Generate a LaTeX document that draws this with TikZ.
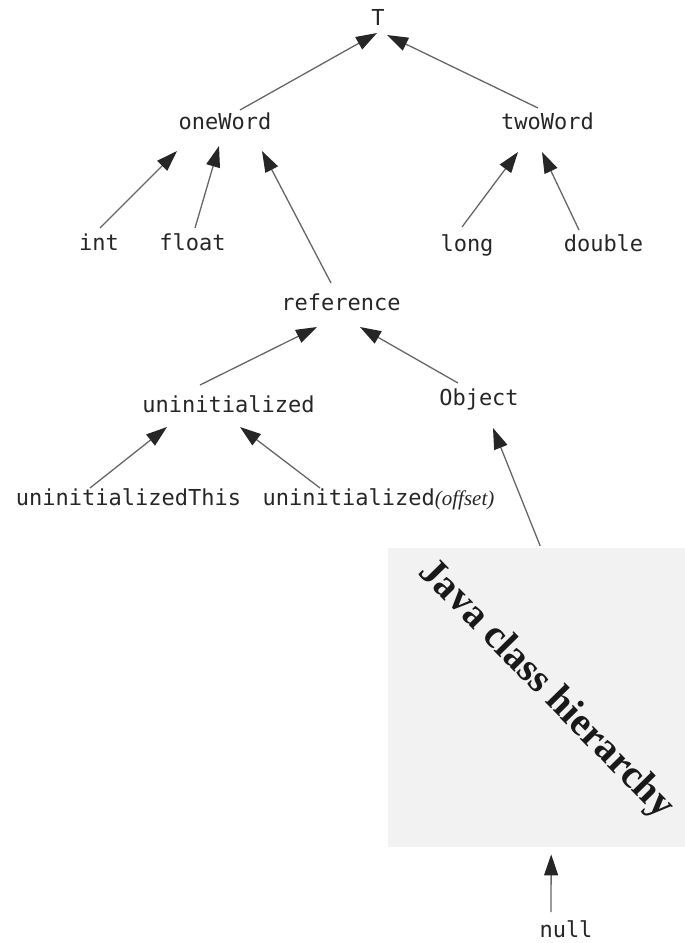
\documentclass[tikz,border=0pt]{standalone}
\usepackage{fontspec}
\setmainfont{Liberation Serif}
\setmonofont{DejaVu Sans Mono}
\usetikzlibrary{arrows.meta,calc}

\begin{document}
\begin{tikzpicture}[x=1pt,y=-1pt,
  type/.style={font=\ttfamily\fontsize{22}{22}\selectfont, text=black!85, inner sep=0pt, anchor=base},
  sub/.style={draw=black!60, line width=1.3pt,
    -{Triangle[length=21pt,width=14pt,color=black!85]}},
  hierbox/.style={fill=black!5, draw=none, inner sep=0pt, anchor=north west},
  hierlabel/.style={font=\bfseries\fontsize{40}{40}\selectfont, text=black!90, inner sep=0pt}]

\useasboundingbox (0,0) rectangle (685,943);

% gray area standing for the Java class hierarchy
\node[hierbox, minimum width=297pt, minimum height=299pt] (jch) at (388,548) {};
\node[hierlabel, rotate=-45.5] (jchlabel) at (546,690) {Java class hierarchy};

% type lattice
\node[type] (top) at (378,25) {T};
\node[type] (oneWord) at (225,129) {oneWord};
\node[type] (twoWord) at (547.5,129) {twoWord};
\node[type] (int) at (99,250) {int};
\node[type] (float) at (192.5,250) {float};
\node[type] (long) at (467,251) {long};
\node[type] (double) at (603.5,251) {double};
\node[type] (reference) at (341,310) {reference};
\node[type] (uninit) at (228.5,412) {uninitialized};
\node[type] (object) at (479,405) {Object};
\node[type] (uninitThis) at (128.5,505) {uninitializedThis};
\node[type] (uninitOff) at (378.5,505) {uninitialized{\rmfamily\itshape\fontsize{21}{21}\selectfont(offset)}};
\node[type] (null) at (566,937) {null};

% subtype arrows
\draw[sub] ($(oneWord.base)+(15,-19)$) -- ($(top.base)+(-1,8)$);
\draw[sub] ($(twoWord.base)+(-9.5,-21)$) -- ($(top.base)+(9,10)$);
\draw[sub] ($(int.base)+(1,-22)$) -- ($(oneWord.base)+(-48,22)$);
\draw[sub] ($(float.base)+(2.5,-22)$) -- ($(oneWord.base)+(-6,17)$);
\draw[sub] ($(reference.base)+(-10,-27)$) -- ($(oneWord.base)+(37,22)$);
\draw[sub] ($(long.base)+(-5,-24)$) -- ($(twoWord.base)+(-29.5,23)$);
\draw[sub] ($(double.base)+(-24.5,-21)$) -- ($(twoWord.base)+(-5.5,23)$);
\draw[sub] ($(uninit.base)+(-28.5,-27)$) -- ($(reference.base)+(-24,17)$);
\draw[sub] ($(object.base)+(-21,-22)$) -- ($(reference.base)+(19,17)$);
\draw[sub] ($(uninitThis.base)+(-38.5,-17)$) -- ($(uninit.base)+(-61.5,15)$);
\draw[sub] ($(uninitOff.base)+(-58.5,-17)$) -- ($(uninit.base)+(11.5,15)$);
\draw[sub] ($(jch.north)+(3.5,-2)$) -- ($(object.base)+(14,23)$);
\draw[sub] ($(null.base)+(-15,-25)$) -- ($(jch.south)+(14.5,7)$);

\end{tikzpicture}
\end{document}
